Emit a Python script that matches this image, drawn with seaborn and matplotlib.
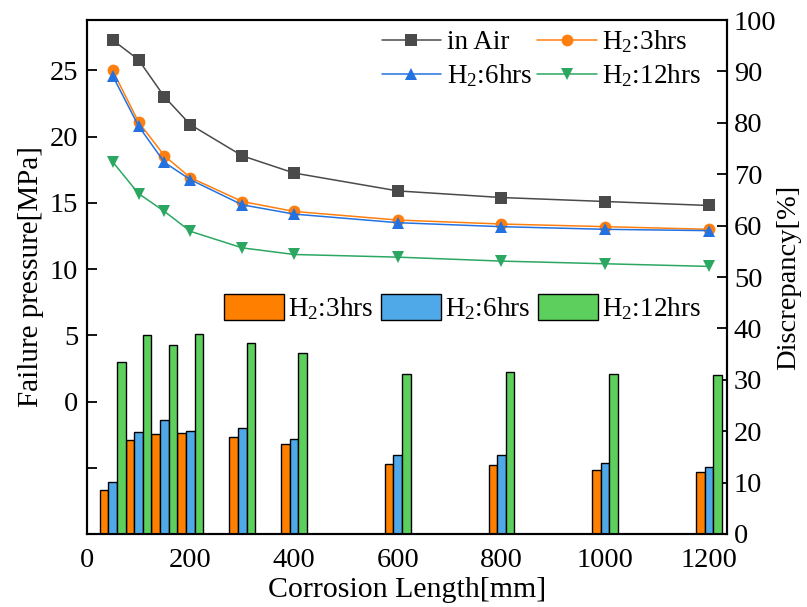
import pandas as pd
import numpy as np
import matplotlib
matplotlib.use('Agg')
import matplotlib.pyplot as plt
import seaborn as sns

# corrosion lengths (mm)
lengths = [50, 100, 150, 200, 300, 400, 600, 800, 1000, 1200]

# failure pressure (MPa)
air = [27.3, 25.8, 23.0, 20.9, 18.55, 17.25, 15.9, 15.4, 15.1, 14.8]
h2_3 = [25.0, 21.1, 18.55, 16.9, 15.1, 14.35, 13.7, 13.4, 13.2, 13.0]
h2_6 = [24.6, 20.8, 18.05, 16.75, 14.85, 14.15, 13.5, 13.2, 13.0, 12.9]
h2_12 = [18.1, 15.7, 14.35, 12.85, 11.6, 11.1, 10.9, 10.6, 10.4, 10.2]

# discrepancy (%)
disc_3 = [8.6, 18.3, 19.5, 19.6, 18.9, 17.6, 13.6, 13.4, 12.45, 12.1]
disc_6 = [10.2, 19.9, 22.2, 20.0, 20.6, 18.5, 15.4, 15.3, 13.75, 13.1]
disc_12 = [33.5, 38.7, 36.8, 39.0, 37.2, 35.3, 31.1, 31.6, 31.1, 30.9]

line_names = ['in Air', 'H$_2$:3hrs', 'H$_2$:6hrs', 'H$_2$:12hrs']
bar_names = ['H$_2$:3hrs', 'H$_2$:6hrs', 'H$_2$:12hrs']

line_colors = ['#4a4a4a', '#ff7f0e', '#2372e0', '#2ca762']
bar_colors = ['#ff7f00', '#4fa8e8', '#5dcf5d']
line_markers = ['s', 'o', '^', 'v']

sns.set_style('white')
plt.rcParams['font.family'] = ['Liberation Serif', 'DejaVu Serif']
plt.rcParams['mathtext.fontset'] = 'custom'
plt.rcParams['mathtext.rm'] = 'Liberation Serif'
plt.rcParams['mathtext.it'] = 'Liberation Serif:italic'
plt.rcParams['text.color'] = 'black'
plt.rcParams['axes.labelcolor'] = 'black'
plt.rcParams['xtick.color'] = 'black'
plt.rcParams['ytick.color'] = 'black'

lines_df = pd.DataFrame({
    'length': lengths * 4,
    'pressure': air + h2_3 + h2_6 + h2_12,
    'series': sum([[n] * len(lengths) for n in line_names], []),
})
bars_df = pd.DataFrame({
    'length': lengths * 3,
    'disc': disc_3 + disc_6 + disc_12,
    'series': sum([[n] * len(lengths) for n in bar_names], []),
})

fig = plt.figure(figsize=(8.07, 6.07), dpi=100)
ax = fig.add_axes([0.1074, 0.1203, 0.7935, 0.8467])
ax2 = ax.twinx()

# bars on the right axis
sns.barplot(data=bars_df, x='length', y='disc', hue='series', hue_order=bar_names,
            palette=bar_colors, native_scale=True, width=1.0, edgecolor='black',
            linewidth=1.0, saturation=1, ax=ax2, errorbar=None)

# lines on the left axis
sns.lineplot(data=lines_df, x='length', y='pressure', hue='series', hue_order=line_names,
             style='series', style_order=line_names, markers=dict(zip(line_names, line_markers)),
             dashes=False, palette=line_colors, markersize=8.5, markeredgewidth=0,
             linewidth=1.1, ax=ax)

ax.set_xlim(0, 1235)
ax.set_ylim(-10, 28.8)
ax2.set_ylim(0, 100)
ax.set_xticks([0, 200, 400, 600, 800, 1000, 1200])
ax.set_yticks([-10, -5, 0, 5, 10, 15, 20, 25])
ax.set_yticklabels(['', '', '0', '5', '10', '15', '20', '25'])
ax2.set_yticks(range(0, 101, 10))

ax.set_xlabel('Corrosion Length[mm]', fontsize=21.5, labelpad=3)
ax.set_ylabel('Failure pressure[MPa]', fontsize=21, labelpad=4)
ax2.set_ylabel('Discrepancy[%]', fontsize=20.5, labelpad=0)

for a in (ax, ax2):
    a.tick_params(direction='in', length=7, width=1.3, labelsize=20.5, pad=6)
    for s in a.spines.values():
        s.set_linewidth(1.5)
        s.set_color('black')
ax.tick_params(axis='x', pad=10)
ax2.tick_params(axis='y', pad=5)

# legends
h, l = ax.get_legend_handles_labels()
order = [0, 2, 1, 3]
ax.legend([h[i] for i in order], [l[i] for i in order], ncol=2, frameon=False,
          loc='upper right', bbox_to_anchor=(0.985, 1.015), fontsize=19.5,
          handlelength=2.2, columnspacing=0.2, handletextpad=0.2, labelspacing=0.25,
          borderaxespad=0.2)

hb, lb = ax2.get_legend_handles_labels()
ax2.legend(hb, lb, ncol=3, frameon=False, loc='center right',
           bbox_to_anchor=(0.997, 0.44), fontsize=19.5, handlelength=2.2,
           handleheight=1.1, columnspacing=0.3, handletextpad=0.15)

fig.savefig('out.png', dpi=100)
